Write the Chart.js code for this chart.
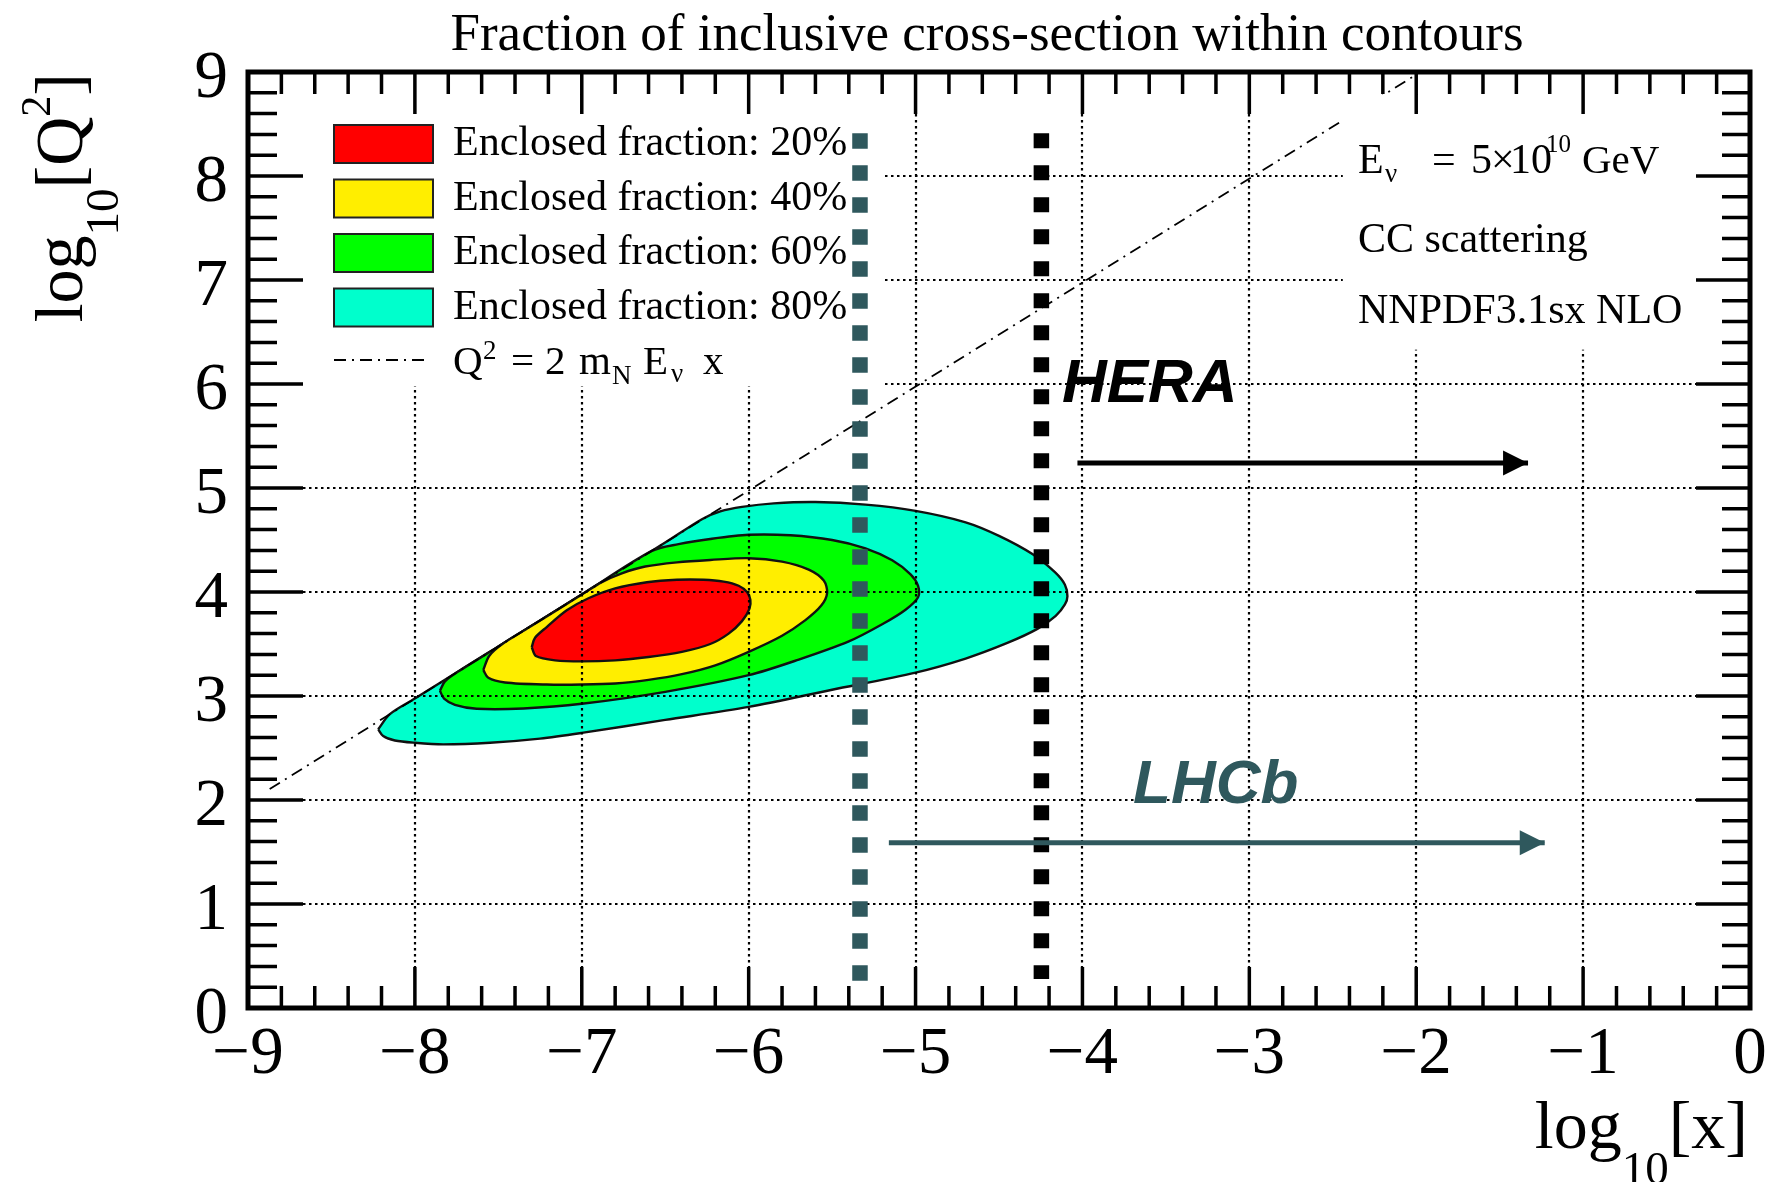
<!DOCTYPE html>
<html>
<head>
<meta charset="utf-8">
<script src="https://cdn.jsdelivr.net/npm/chart.js@4.4.1/dist/chart.umd.min.js"></script>
<style>
  html, body { margin: 0; padding: 0; background: #ffffff; }
  canvas { display: block; }
</style>
</head>
<body>
<canvas id="chart" width="1772" height="1182"></canvas>
<script>
// ---------------- values ----------------
const xTicks = [-9, -8, -7, -6, -5, -4, -3, -2, -1, 0];
const xTickLabels = ['\u22129', '\u22128', '\u22127', '\u22126', '\u22125', '\u22124', '\u22123', '\u22122', '\u22121', '0'];
const yTicks = [0, 1, 2, 3, 4, 5, 6, 7, 8, 9];
const yTickLabels = ['0', '1', '2', '3', '4', '5', '6', '7', '8', '9'];

// contours of the enclosed cross-section fraction, [log10 x, log10 Q^2]
const contour80 = [
  [-8.22, 2.68], [-8.19, 2.615], [-8.12, 2.572], [-8.0, 2.55], [-7.83, 2.535], [-7.55, 2.55],
  [-7.25, 2.59], [-7.0, 2.645], [-6.5, 2.77], [-6.0, 2.895], [-5.5, 3.06], [-5.0, 3.225],
  [-4.7, 3.36], [-4.45, 3.51], [-4.27, 3.645], [-4.16, 3.77], [-4.105, 3.88], [-4.09, 3.96],
  [-4.105, 4.07], [-4.165, 4.19], [-4.3, 4.365], [-4.5, 4.54], [-4.7, 4.67], [-5.0, 4.78],
  [-5.3, 4.84], [-5.6, 4.865], [-5.85, 4.852], [-6.04, 4.818], [-6.17, 4.775], [-6.28, 4.7],
  [-6.5, 4.475], [-7.0, 3.975], [-7.5, 3.475], [-8.0, 2.975], [-8.15, 2.825], [-8.22, 2.68]
];
const contour60 = [
  [-7.85, 3.05], [-7.825, 2.975], [-7.76, 2.915], [-7.63, 2.877], [-7.35, 2.88], [-7.0, 2.925],
  [-6.5, 3.04], [-6.0, 3.2], [-5.7, 3.35], [-5.4, 3.525], [-5.2, 3.69], [-5.06, 3.83],
  [-4.985, 3.95], [-4.985, 4.06], [-5.03, 4.17], [-5.14, 4.305], [-5.3, 4.42], [-5.5, 4.5],
  [-5.75, 4.545], [-6.0, 4.55], [-6.23, 4.51], [-6.42, 4.46], [-6.58, 4.395], [-7.0, 3.975],
  [-7.5, 3.475], [-7.74, 3.235], [-7.82, 3.14], [-7.85, 3.05]
];
const contour40 = [
  [-7.59, 3.25], [-7.56, 3.175], [-7.46, 3.13], [-7.21, 3.11], [-7.0, 3.11], [-6.8, 3.12],
  [-6.6, 3.155], [-6.4, 3.21], [-6.2, 3.295], [-6.0, 3.425], [-5.8, 3.58], [-5.66, 3.73],
  [-5.565, 3.87], [-5.53, 3.99], [-5.55, 4.11], [-5.64, 4.215], [-5.8, 4.292], [-6.0, 4.325],
  [-6.23, 4.308], [-6.43, 4.285], [-6.62, 4.245], [-6.76, 4.18], [-6.88, 4.095], [-7.0, 3.975],
  [-7.3, 3.675], [-7.48, 3.495], [-7.555, 3.385], [-7.59, 3.25]
];
const contour20 = [
  [-7.30, 3.47], [-7.275, 3.385], [-7.16, 3.343], [-7.0, 3.333], [-6.8, 3.343], [-6.6, 3.375],
  [-6.4, 3.425], [-6.23, 3.5], [-6.12, 3.6], [-6.04, 3.72], [-5.995, 3.84], [-5.99, 3.925],
  [-6.01, 4.0], [-6.06, 4.06], [-6.15, 4.1], [-6.27, 4.118], [-6.43, 4.118], [-6.61, 4.094],
  [-6.8, 4.035], [-6.96, 3.94], [-7.09, 3.824], [-7.21, 3.663], [-7.28, 3.56], [-7.30, 3.47]
];

// kinematic limit Q^2 = 2 m_N E_nu x
const kinematicLimit = [[-8.87, 2.105], [-2.0, 8.975]];
// experimental reach in x
const lhcbLimit = [[-5.333, 8.41], [-5.333, 0.26]];
const heraLimit = [[-4.246, 8.41], [-4.246, 0.28]];
const heraArrow = [[-4.03, 5.24], [-1.33, 5.24]];
const lhcbArrow = [[-5.16, 1.59], [-1.23, 1.59]];

const fractionLabels = ['Enclosed fraction: 20%', 'Enclosed fraction: 40%', 'Enclosed fraction: 60%', 'Enclosed fraction: 80%'];
const fractionColors = ['#ff0000', '#ffee00', '#00ff00', '#00ffcc'];
const titleText = 'Fraction of inclusive cross-section within contours';
const infoLine2 = 'CC scattering';
const infoLine3 = 'NNPDF3.1sx NLO';
const heraText = 'HERA';
const lhcbText = 'LHCb';

// ---------------- styling ----------------
const SERIF = '"Liberation Serif", "Times New Roman", Times, serif';
const SANS = '"Liberation Sans", Arial, Helvetica, sans-serif';
const SLATE = '#2f585d';

const toXY = arr => arr.map(p => ({ x: p[0], y: p[1] }));

function contourSet(data, color, order) {
  return {
    data: toXY(data), backgroundColor: color, borderColor: '#111111', borderWidth: 2.4,
    fill: 'shape', tension: 0.3, pointRadius: 0, pointHoverRadius: 0, order: order
  };
}
function lineSet(data, color, width, dash, order) {
  return {
    data: toXY(data), borderColor: color, backgroundColor: color, borderWidth: width,
    borderDash: dash, borderCapStyle: 'butt', fill: false, tension: 0,
    pointRadius: 0, pointHoverRadius: 0, order: order
  };
}

const KIN_INDEX = 4;

// draws rich text pieces: [text, dx, size, dy]
function drawPieces(ctx, x0, y0, pieces, family, color) {
  ctx.fillStyle = color;
  ctx.textAlign = 'left';
  ctx.textBaseline = 'alphabetic';
  for (const [t, dx, size, dy] of pieces) {
    ctx.font = size + 'px ' + family;
    ctx.fillText(t, x0 + dx, y0 + dy);
  }
}
// flowing rich text: [text, size, dy]; right-aligned on (xr, y0)
function flowRight(ctx, xr, y0, pieces, family) {
  let w = 0;
  const widths = pieces.map(([t, size]) => { ctx.font = size + 'px ' + family; const m = ctx.measureText(t).width; w += m; return m; });
  let x = xr - w;
  ctx.textAlign = 'left';
  ctx.textBaseline = 'alphabetic';
  pieces.forEach(([t, size, dy], i) => {
    ctx.font = size + 'px ' + family;
    ctx.fillText(t, x, y0 + dy);
    x += widths[i];
  });
}

const rootStyle = {
  id: 'rootStyle',
  afterDatasetDraw(chart, args) {
    if (args.index !== KIN_INDEX) return;
    const ctx = chart.ctx;
    const xs = chart.scales.x, ys = chart.scales.y;
    const a = chart.chartArea;
    ctx.save();
    // dotted grid, spanning between the inner tick ends
    ctx.strokeStyle = '#000000';
    ctx.lineWidth = 2.2;
    ctx.setLineDash([2.5, 3.5]);
    xTicks.slice(1, -1).forEach(v => {
      const px = Math.round(xs.getPixelForValue(v));
      ctx.beginPath(); ctx.moveTo(px, a.top + 42); ctx.lineTo(px, a.bottom - 41); ctx.stroke();
    });
    yTicks.slice(1, -1).forEach(v => {
      const py = Math.round(ys.getPixelForValue(v));
      ctx.beginPath(); ctx.moveTo(a.left + 55, py); ctx.lineTo(a.right - 54, py); ctx.stroke();
    });
    ctx.setLineDash([]);
    // white panels behind the legend and the info text
    ctx.fillStyle = '#ffffff';
    const box = (x0, x1, y0, y1) => {
      const l = xs.getPixelForValue(x0), r = xs.getPixelForValue(x1);
      const t = ys.getPixelForValue(y1), b = ys.getPixelForValue(y0);
      ctx.fillRect(l, t, r - l, b - t);
    };
    box(-9, -5.195, 5.98, 9);
    box(-2.44, 0, 6.33, 8.78);
    ctx.restore();
  },
  afterDatasetsDraw(chart) {
    const ctx = chart.ctx;
    const xs = chart.scales.x, ys = chart.scales.y;
    const a = chart.chartArea;
    ctx.save();

    // arrow heads
    const head = (idx, color) => {
      const pts = chart.getDatasetMeta(idx).data;
      const p0 = pts[0], p1 = pts[pts.length - 1];
      const ang = Math.atan2(p1.y - p0.y, p1.x - p0.x);
      ctx.save();
      ctx.translate(p1.x, p1.y); ctx.rotate(ang);
      ctx.fillStyle = color;
      ctx.beginPath(); ctx.moveTo(0, 0); ctx.lineTo(-25, -12.5); ctx.lineTo(-25, 12.5); ctx.closePath(); ctx.fill();
      ctx.restore();
    };
    head(7, '#000000');
    head(8, SLATE);

    // frame ticks (inside)
    ctx.strokeStyle = '#000000';
    ctx.lineWidth = 3.5;
    ctx.beginPath();
    for (let i = 0; i <= 45; i++) {
      const v = -9 + i * 0.2;
      const px = xs.getPixelForValue(v);
      const major = i % 5 === 0;
      ctx.moveTo(px, a.bottom); ctx.lineTo(px, a.bottom - (major ? 41 : 22));
      ctx.moveTo(px, a.top); ctx.lineTo(px, a.top + (major ? 42 : 22));
    }
    for (let i = 0; i <= 45; i++) {
      const v = i * 0.2;
      const py = ys.getPixelForValue(v);
      const major = i % 5 === 0;
      ctx.moveTo(a.left, py); ctx.lineTo(a.left + (major ? 55 : 29), py);
      ctx.moveTo(a.right, py); ctx.lineTo(a.right - (major ? 54 : 28), py);
    }
    ctx.stroke();
    ctx.lineWidth = 5;
    ctx.strokeRect(a.left, a.top, a.right - a.left, a.bottom - a.top);

    // tick labels
    ctx.fillStyle = '#000000';
    ctx.font = '67px ' + SERIF;
    ctx.textAlign = 'center';
    ctx.textBaseline = 'alphabetic';
    xTicks.forEach((v, i) => ctx.fillText(xTickLabels[i], xs.getPixelForValue(v), a.bottom + 65));
    ctx.textAlign = 'right';
    yTicks.forEach((v, i) => ctx.fillText(yTickLabels[i], a.left - 20, ys.getPixelForValue(v) + 25));

    // title
    ctx.font = '53px ' + SERIF;
    ctx.textAlign = 'center';
    ctx.fillText(titleText, 987, 50);

    // axis titles
    flowRight(ctx, a.right - 2, 1148, [['log', 68, 0], ['10', 47, 36], ['[x]', 68, 0]], SERIF);
    ctx.save();
    ctx.translate(82, a.top + 1);
    ctx.rotate(-Math.PI / 2);
    flowRight(ctx, 0, 0, [['log', 68, 0], ['10', 47, 36], ['[Q', 68, 0], ['2', 42, -32], [']', 68, 0]], SERIF);
    ctx.restore();

    // legend
    const lx = 334, ly = [125, 179.5, 234, 288.5];
    fractionLabels.forEach((lab, i) => {
      ctx.fillStyle = fractionColors[i];
      ctx.fillRect(lx, ly[i], 99, 38);
      ctx.strokeStyle = '#222222';
      ctx.lineWidth = 2;
      ctx.strokeRect(lx, ly[i], 99, 38);
      ctx.fillStyle = '#000000';
      ctx.font = '42px ' + SERIF;
      ctx.textAlign = 'left';
      ctx.fillText(lab, 453, ly[i] + 30);
    });
    ctx.strokeStyle = '#000000';
    ctx.lineWidth = 1.8;
    ctx.setLineDash([12, 6, 2, 6]);
    ctx.beginPath(); ctx.moveTo(lx, 360); ctx.lineTo(lx + 92, 360); ctx.stroke();
    ctx.setLineDash([]);
    drawPieces(ctx, 453, 374, [
      ['Q', 0, 41, 0], ['2', 30, 27, -15], ['=', 58, 41, 0], ['2', 92, 41, 0], ['m', 126, 41, 0],
      ['N', 159, 27, 10], ['E', 190, 41, 0], ['\u03bd', 218, 27, 8], ['x', 250, 41, 0]
    ], SERIF, '#000000');

    // info text
    drawPieces(ctx, 1358, 173, [
      ['E', 0, 42, 0], ['\u03bd', 27, 27, 9], ['=', 74, 42, 0], ['5', 113, 42, 0], ['\u00d7', 133, 42, 0],
      ['10', 152, 42, 0], ['10', 188, 25, -21], ['GeV', 224, 41, 0]
    ], SERIF, '#000000');
    ctx.font = '42px ' + SERIF;
    ctx.textAlign = 'left';
    ctx.fillText(infoLine2, 1358, 252);
    ctx.fillText(infoLine3, 1358, 323);

    // experiment labels, placed in data coordinates
    ctx.font = 'italic bold 62px ' + SANS;
    ctx.fillStyle = '#000000';
    ctx.fillText(heraText, xs.getPixelForValue(-4.123), ys.getPixelForValue(5.827));
    ctx.fillStyle = SLATE;
    ctx.fillText(lhcbText, xs.getPixelForValue(-3.697), ys.getPixelForValue(1.971));

    ctx.restore();
  }
};

new Chart(document.getElementById('chart').getContext('2d'), {
  type: 'line',
  data: {
    datasets: [
      contourSet(contour80, fractionColors[3], 10),
      contourSet(contour60, fractionColors[2], 9),
      contourSet(contour40, fractionColors[1], 8),
      contourSet(contour20, fractionColors[0], 7),
      lineSet(kinematicLimit, '#000000', 1.8, [12, 6, 2, 6], 6),
      lineSet(lhcbLimit, SLATE, 15.5, [15.5, 16.5], 4),
      lineSet(heraLimit, '#000000', 15.5, [15, 17], 3),
      lineSet(heraArrow, '#000000', 5, [], 2),
      lineSet(lhcbArrow, SLATE, 5, [], 1)
    ]
  },
  options: {
    responsive: false,
    animation: false,
    devicePixelRatio: 1,
    events: [],
    layout: { padding: { left: 248, top: 72, right: 22, bottom: 174 } },
    plugins: { legend: { display: false }, title: { display: false }, tooltip: { enabled: false } },
    scales: {
      x: { type: 'linear', min: -9, max: 0, display: false },
      y: { type: 'linear', min: 0, max: 9, display: false }
    }
  },
  plugins: [rootStyle]
});
</script>
</body>
</html>
